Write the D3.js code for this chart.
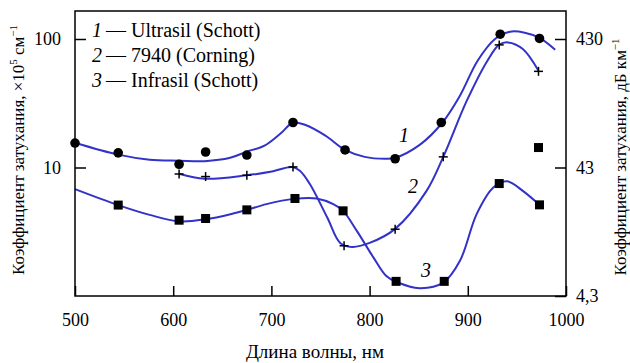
<!DOCTYPE html>
<html><head><meta charset="utf-8">
<script src="https://cdn.jsdelivr.net/npm/d3@7"></script>
<style>body{margin:0;background:#fff}svg{display:block}</style>
</head><body><svg id="c" width="630" height="363" font-family="Liberation Serif"></svg>
<script>
// ---- data ----
const xTicks = [500, 600, 700, 800, 900, 1000];
const yTicksLeft = [10, 100];
const yTicksRight = [4.3, 43, 430];
const legendLabels = ["Ultrasil (Schott)", "7940 (Corning)", "Infrasil (Schott)"];
const seriesNames = ["1", "2", "3"];

// measured points (wavelength nm, attenuation ×10^5 cm^-1)
const pts1 = [[500,15.5],[544,13.0],[606,10.6],[633,13.2],[675,12.5],[722,22.4],[775,13.7],[826,11.7],[873,22.4],[933,109],[973,101]];
const pts2 = [[606,8.9],[633,8.5],[675,8.7],[722,10.1],[774,2.46],[826,3.31],[875,12.1],[932,90],[972,56]];
const pts3 = [[544,5.1],[606,3.89],[633,4.01],[675,4.68],[724,5.74],[773,4.6],[827,1.3],[876,1.3],[932,7.5],[973,5.12]];
const pts3Extra = [[972,14.3]];

// smoothed curves
const curve1 = [[500,15.6],[544,12.6],[576,11.5],[606,11.3],[632,11.2],[658,11.9],[675,13.3],[693,14.8],[709,18.3],[722,22.3],[734,21.5],[755,17.7],[775,13.7],[795,12.1],[816,11.7],[826,11.9],[851,15.0],[874,22.3],[892,36.2],[910,67.8],[928,100.5],[943,114],[958,112],[973,102],[989,82.5]];
const curve2 = [[606,8.93],[632,8.17],[675,8.70],[699,9.26],[721,10.1],[729,9.43],[739,7.47],[757,4.06],[770,2.59],[782,2.41],[800,2.59],[826,3.33],[858,6.58],[875,12.1],[899,33.1],[920,67.8],[932,90.3],[941,94.1],[956,83.6],[972,56.6]];
const curve3 = [[500,6.79],[544,5.10],[576,4.28],[606,3.81],[633,3.95],[661,4.38],[675,4.68],[695,5.19],[723,5.70],[746,5.74],[763,5.19],[773,4.60],[787,3.21],[804,1.99],[817,1.43],[827,1.29],[851,1.15],[875,1.27],[892,1.88],[909,4.34],[926,6.99],[940,7.81],[956,6.58],[973,5.12]];

// ---- layout ----
const FONT = "'Liberation Serif', 'Noto Serif CJK SC', 'DejaVu Serif', serif";
const L = 75, R = 566, T = 11, B = 296;
const svg = d3.select("#c");
const x = d3.scaleLinear().domain([500, 1000]).range([L, R]);
const y = d3.scaleLog().domain([1, 100]).range([B, 39]);
const yR = d3.scaleLog().domain([4.3, 430]).range([B, 39]);
const blue = "#3232c8";

const line = d3.line().x(d => x(d[0])).y(d => y(d[1])).curve(d3.curveCatmullRom.alpha(0.5));
[curve1, curve2, curve3].forEach(c => {
  svg.append("path").attr("d", line(c)).attr("fill", "none").attr("stroke", blue).attr("stroke-width", 2);
});

// frame
svg.append("rect").attr("x", L).attr("y", T).attr("width", R - L).attr("height", B - T)
  .attr("fill", "none").attr("stroke", "#000").attr("stroke-width", 1.5);

// axes
const fs = 18;
const xAxis = d3.axisBottom(x).tickValues(xTicks).tickFormat(d3.format("d")).tickSizeInner(-10).tickSizeOuter(0).tickPadding(17);
const gx = svg.append("g").attr("transform", `translate(0,${B})`).call(xAxis);
const yAxisL = d3.axisLeft(y).tickValues(yTicksLeft).tickFormat(d3.format("d")).tickSizeInner(-11).tickSizeOuter(0).tickPadding(14);
const gy = svg.append("g").attr("transform", `translate(${L},0)`).call(yAxisL);
const yAxisR = d3.axisRight(yR).tickValues(yTicksRight).tickFormat(d => String(d).replace(".", ",")).tickSizeInner(-11).tickSizeOuter(0).tickPadding(10);
const gr = svg.append("g").attr("transform", `translate(${R},0)`).call(yAxisR);
[gx, gy, gr].forEach(g => {
  g.attr("font-family", null).attr("font-size", fs);
  g.select(".domain").remove();
  g.selectAll("line").attr("stroke", "#000").attr("stroke-width", 1.5);
  g.selectAll("text").attr("fill", "#000").style("font-size", fs + "px");
});

// markers
svg.selectAll("circle.m1").data(pts1).join("circle")
  .attr("cx", d => x(d[0])).attr("cy", d => y(d[1])).attr("r", 4.8).attr("fill", "#000");
const pl = 4.5;
const g2 = svg.append("g").attr("stroke", "#000").attr("stroke-width", 1.5);
pts2.forEach(d => {
  const cx = x(d[0]), cy = y(d[1]);
  g2.append("line").attr("x1", cx - pl).attr("x2", cx + pl).attr("y1", cy).attr("y2", cy);
  g2.append("line").attr("x1", cx).attr("x2", cx).attr("y1", cy - pl).attr("y2", cy + pl);
});
const sq = 9;
svg.selectAll("rect.m3").data(pts3.concat(pts3Extra)).join("rect")
  .attr("x", d => x(d[0]) - sq / 2).attr("y", d => y(d[1]) - sq / 2)
  .attr("width", sq).attr("height", sq).attr("fill", "#000");

// legend
legendLabels.forEach((lab, i) => {
  const t = svg.append("text").attr("x", 92).attr("y", 37 + i * 25).style("font-size", "20px");
  t.append("tspan").style("font-style", "italic").text(seriesNames[i]);
  t.append("tspan").attr("dx", 4).text("— " + lab);
});

// curve labels
const curveLabelPos = [[404, 142], [413, 193], [426, 277]];
curveLabelPos.forEach((p, i) => {
  svg.append("text").attr("x", p[0]).attr("y", p[1]).attr("text-anchor", "middle")
    .style("font-size", "20px").style("font-style", "italic").text(seriesNames[i]);
});

// axis titles
svg.append("text").attr("x", 315).attr("y", 358).attr("text-anchor", "middle")
  .style("font-size", "19px").text("Длина волны, нм");
const lt = svg.append("text").attr("transform", "translate(24,150) rotate(-90)").attr("text-anchor", "middle")
  .style("font-size", "17px");
lt.append("tspan").text("Коэффициент затухания, ×10");
lt.append("tspan").style("font-size", "11px").attr("dy", -7).text("5");
lt.append("tspan").attr("dy", 7).text(" см");
lt.append("tspan").style("font-size", "11px").attr("dy", -7).text("−1");
const rt = svg.append("text").attr("transform", "translate(626,157) rotate(-90)").attr("text-anchor", "middle")
  .style("font-size", "17px");
rt.append("tspan").text("Коэффициент затухания, дБ км");
rt.append("tspan").style("font-size", "11px").attr("dy", -7).text("−1");

// serif font on every text
svg.selectAll("text").style("font-family", FONT);
</script></body></html>
